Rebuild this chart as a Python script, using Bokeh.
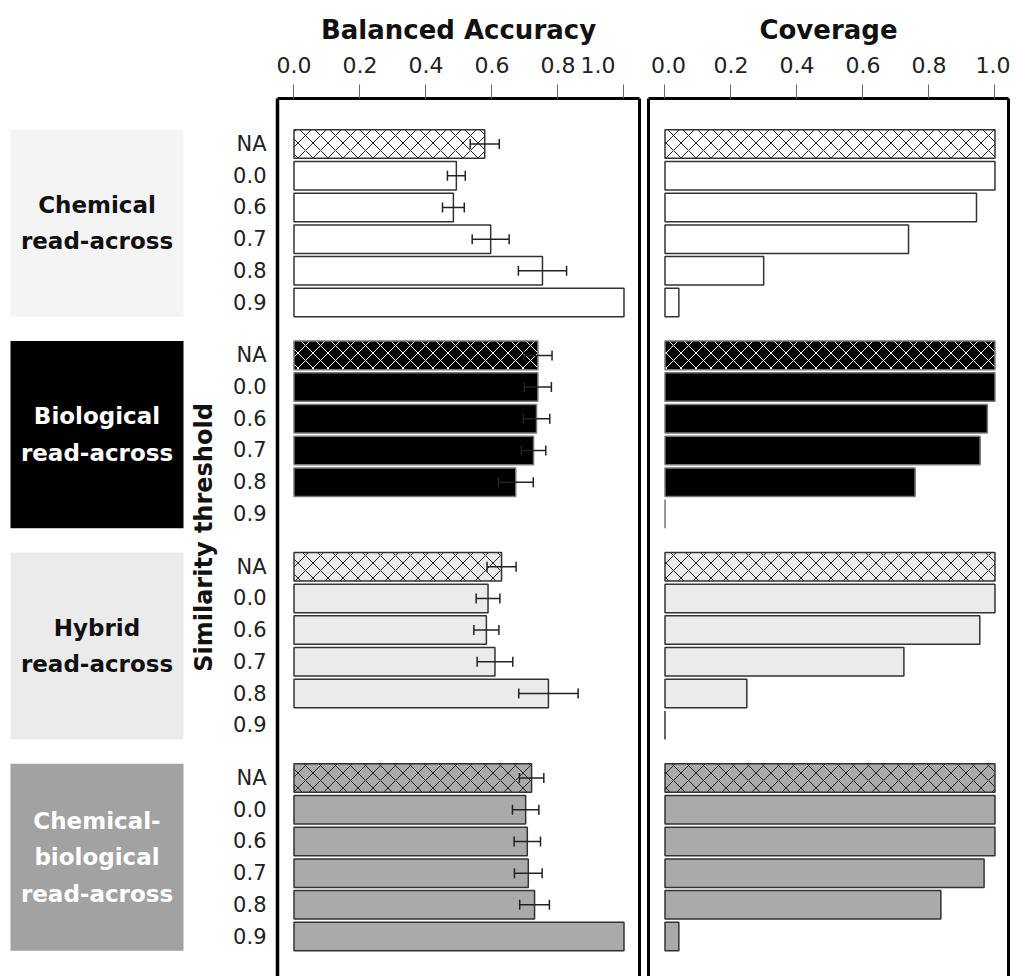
from bokeh.plotting import figure
from bokeh.models import (ColumnDataSource, Range1d, FixedTicker, PrintfTickFormatter,
                          LinearAxis, Whisker, TeeHead)
from bokeh.layouts import row
from bokeh.embed import file_html
from bokeh.resources import INLINE
from bokeh.core.properties import value
import math

nan = float("nan")

# ---------------- data ----------------
groups = ["Chemical\nread-across", "Biological\nread-across",
          "Hybrid\nread-across", "Chemical-\nbiological\nread-across"]
thresholds = ["NA", "0.0", "0.6", "0.7", "0.8", "0.9"]

acc_chem = [0.578, 0.492, 0.483, 0.596, 0.753, 1.0]
err_chem = [0.044, 0.027, 0.033, 0.056, 0.073, nan]
acc_bio = [0.739, 0.739, 0.735, 0.726, 0.672, nan]
err_bio = [0.043, 0.041, 0.040, 0.037, 0.053, nan]
acc_hyb = [0.629, 0.588, 0.583, 0.609, 0.771, nan]
err_hyb = [0.044, 0.036, 0.038, 0.054, 0.090, nan]
acc_cb = [0.720, 0.702, 0.707, 0.710, 0.729, 1.0]
err_cb = [0.037, 0.040, 0.040, 0.042, 0.045, nan]

cov_chem = [1.0, 1.0, 0.944, 0.738, 0.299, 0.042]
cov_bio = [1.0, 1.0, 0.977, 0.955, 0.758, 0.0]
cov_hyb = [1.0, 1.0, 0.954, 0.724, 0.248, 0.0]
cov_cb = [1.0, 1.0, 1.0, 0.967, 0.836, 0.042]

x_ticks = [0.0, 0.2, 0.4, 0.6, 0.8, 1.0]
x_tick_labels = ["0.0", "0.2", "0.4", "0.6", "0.8", "1.0"]

# ---------------- styles ----------------
accuracy = [acc_chem, acc_bio, acc_hyb, acc_cb]
errors = [err_chem, err_bio, err_hyb, err_cb]
coverage = [cov_chem, cov_bio, cov_hyb, cov_cb]

bar_fill = ["#ffffff", "#000000", "#ebebeb", "#aaaaaa"]
bar_line = ["#333333", "#777777", "#333333", "#333333"]
hatch_col = ["#222222", "#ffffff", "#222222", "#222222"]
box_fill = ["#f4f4f4", "#000000", "#ebebeb", "#a2a2a2"]
box_text = ["#111111", "#ffffff", "#111111", "#ffffff"]

GROUP_STEP = 20
ROW_STEP = 3
BAR_H = 2.7
NBSP = "\u00a0"

def ypos(g, r):
    return -(g * GROUP_STEP + r * ROW_STEP)

FONT = value("DejaVu Sans")

H = 976
TOP = 98
PX_PER_UNIT = 31.7 / ROW_STEP
y_top = 4.31
y_range = Range1d(y_top - (H - TOP) / PX_PER_UNIT, y_top)

def bar_source(values_list):
    d = dict(y=[], right=[], fill=[], line=[], hatch=[], hcol=[])
    for g, vals in enumerate(values_list):
        for r, v in enumerate(vals):
            if math.isnan(v):
                continue
            d["y"].append(ypos(g, r))
            d["right"].append(v)
            d["fill"].append(bar_fill[g])
            d["line"].append(bar_line[g])
            d["hatch"].append("x" if thresholds[r] == "NA" else " ")
            d["hcol"].append(hatch_col[g])
    return ColumnDataSource(d)

def err_source():
    d = dict(y=[], lo=[], hi=[])
    for g in range(4):
        for r in range(6):
            v, e = accuracy[g][r], errors[g][r]
            if math.isnan(v) or math.isnan(e):
                continue
            d["y"].append(ypos(g, r))
            d["lo"].append(v - e)
            d["hi"].append(v + e)
    return ColumnDataSource(d)

def style_top_axis(ax, overrides):
    ax.ticker = FixedTicker(ticks=x_ticks)
    ax.formatter = PrintfTickFormatter(format="%.1f")
    ax.major_label_overrides = overrides
    ax.major_tick_out = 14
    ax.major_tick_in = 0
    ax.minor_tick_out = 0
    ax.minor_tick_in = 0
    ax.major_tick_line_color = "#666666"
    ax.major_tick_line_width = 1
    ax.axis_line_color = "black"
    ax.axis_line_width = 3
    ax.major_label_text_font = "DejaVu Sans"
    ax.major_label_text_font_size = "22px"
    ax.major_label_text_color = "#222222"
    ax.major_label_standoff = 7

def border_axis(width=3):
    ax = LinearAxis(ticker=FixedTicker(ticks=[]))
    ax.major_tick_out = 0
    ax.major_tick_in = 0
    ax.minor_tick_out = 0
    ax.minor_tick_in = 0
    ax.major_label_standoff = 0
    ax.axis_line_color = "black"
    ax.axis_line_width = width
    return ax

def style_title(p, txt):
    p.title.text = txt
    p.title.align = "center"
    p.title.text_font = "DejaVu Sans"
    p.title.text_font_size = "26px"
    p.title.text_font_style = "bold"
    p.title.text_color = "#111111"
    p.title.standoff = 9

# ---------------- group label panel ----------------
pa = figure(width=185, height=H, x_range=Range1d(0, 185), y_range=y_range,
            x_axis_location=None, y_axis_location=None,
            output_backend="svg", toolbar_location=None,
            min_border_top=TOP, min_border_bottom=0,
            min_border_left=0, min_border_right=0)
pa.outline_line_color = None
pa.grid.visible = False
box_src = ColumnDataSource(dict(
    top=[ypos(g, 0) + BAR_H / 2 for g in range(4)],
    bottom=[ypos(g, 5) - BAR_H / 2 for g in range(4)],
    mid=[(ypos(g, 0) + ypos(g, 5)) / 2 for g in range(4)],
    fill=box_fill, tcol=box_text, label=groups))
pa.quad(left=10, right=183, top="top", bottom="bottom", source=box_src,
        fill_color="fill", line_color=None)
pa.text(x=96.5, y="mid", text="label", source=box_src, text_align="center",
        text_baseline="middle", text_font=FONT, text_font_style="bold",
        text_font_size="23px", text_color="tcol", text_line_height=1.4)

# ---------------- accuracy panel ----------------
pb = figure(width=458, height=H, x_range=Range1d(-0.05, 1.047), y_range=y_range,
            x_axis_location="above", output_backend="svg", toolbar_location=None,
            min_border_top=TOP, min_border_bottom=0,
            min_border_left=92, min_border_right=4)
pb.outline_line_color = None
pb.grid.visible = False
style_title(pb, "Balanced Accuracy")
style_top_axis(pb.xaxis[0], {1.0: x_tick_labels[-1] + NBSP * 4})
yax = pb.yaxis[0]
yax.ticker = FixedTicker(ticks=[ypos(g, r) for g in range(4) for r in range(6)])
yax.major_label_overrides = {ypos(g, r): thresholds[r] for g in range(4) for r in range(6)}
yax.major_tick_out = 0
yax.major_tick_in = 0
yax.minor_tick_out = 0
yax.minor_tick_in = 0
yax.axis_line_color = "black"
yax.axis_line_width = 3.5
yax.major_label_text_font = "DejaVu Sans"
yax.major_label_text_font_size = "21px"
yax.major_label_text_color = "#222222"
yax.major_label_standoff = 11
yax.axis_label = "Similarity threshold"
yax.axis_label_text_font = "DejaVu Sans"
yax.axis_label_text_font_style = "bold"
yax.axis_label_text_font_size = "24px"
yax.axis_label_text_color = "#111111"
yax.axis_label_standoff = 12
pb.add_layout(border_axis(3), "right")

src_acc = bar_source(accuracy)
pb.hbar(y="y", left=0, right="right", height=BAR_H, source=src_acc,
        fill_color="fill", line_color="line", line_width=1.5,
        hatch_pattern="hatch", hatch_color="hcol", hatch_scale=15, hatch_weight=1)
pb.add_layout(Whisker(source=err_source(), base="y", lower="lo", upper="hi",
                      dimension="width", line_color="#222222", line_width=1.5,
                      level="overlay",
                      lower_head=TeeHead(size=10, line_color="#222222", line_width=1.5),
                      upper_head=TeeHead(size=10, line_color="#222222", line_width=1.5)))

# ---------------- coverage panel ----------------
pc = figure(width=367, height=H, x_range=Range1d(-0.05, 1.041), y_range=y_range,
            x_axis_location="above", y_axis_location=None,
            output_backend="svg", toolbar_location=None,
            min_border_top=TOP, min_border_bottom=0,
            min_border_left=5, min_border_right=2)
pc.outline_line_color = None
pc.grid.visible = False
style_title(pc, "Coverage")
style_top_axis(pc.xaxis[0], {0.0: NBSP + x_tick_labels[0]})
pc.add_layout(border_axis(3), "left")
pc.add_layout(border_axis(3), "right")

src_cov = bar_source(coverage)
pc.hbar(y="y", left=0, right="right", height=BAR_H, source=src_cov,
        fill_color="fill", line_color="line", line_width=1.5,
        hatch_pattern="hatch", hatch_color="hcol", hatch_scale=15, hatch_weight=1)

layout = row(pa, pb, pc)
open("out.html", "w").write(file_html(layout, INLINE))
